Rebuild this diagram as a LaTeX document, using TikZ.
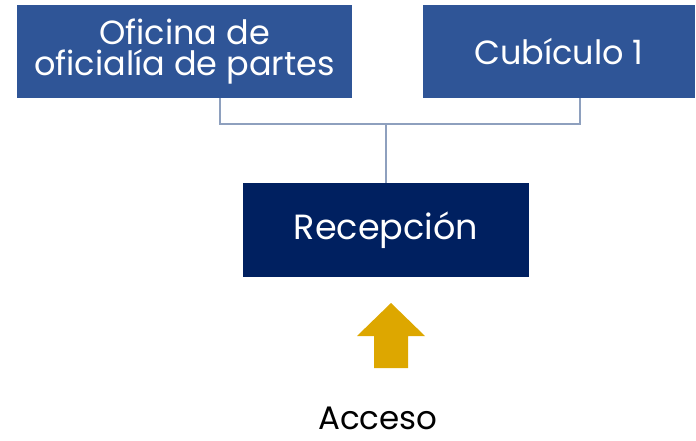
\documentclass[tikz,border=0pt]{standalone}
\usepackage{fontspec}
\setmainfont{Poppins}
\definecolor{boxblue}{HTML}{2F5597}
\definecolor{recblue}{HTML}{002060}
\definecolor{linegray}{HTML}{8EA0BE}
\definecolor{arrowgold}{HTML}{DDA700}

\begin{document}
\begin{tikzpicture}
  [x=1pt,y=-1pt,
   box/.style={fill=boxblue,text=white,align=center,inner sep=0pt,
     minimum width=335pt,minimum height=93pt,font=\fontsize{33.5}{31}\selectfont},
   wire/.style={draw=linegray,line width=2pt}]
  \useasboundingbox (0,0) rectangle (696,440);
  \node[box] (ofi) at (184.5,51.5) {Oficina de\\oficialía de partes};
  \node[box,minimum width=272pt] (cub) at (559,51.5) {Cubículo 1};
  \node[box,fill=recblue,minimum width=286pt,minimum height=94pt,
    font=\fontsize{35}{36}\selectfont] (rec) at (386,230) {Recepción};
  \coordinate (jn) at (386,124);
  \node[font=\fontsize{32.5}{34}\selectfont,text=black,anchor=base,inner sep=0pt]
    (acc) at (378,429) {Acceso};
  % conectores
  \draw[wire] ([xshift=35.5pt]ofi.south) |- (jn) -| ([xshift=21pt]cub.south);
  \draw[wire] (jn) -- (rec.north);
  % flecha de acceso
  \fill[arrowgold] (374,368) -- (374,336) -- (357,336) -- (391,303)
    -- (425,336) -- (408,336) -- (408,368) -- cycle;
\end{tikzpicture}
\end{document}
